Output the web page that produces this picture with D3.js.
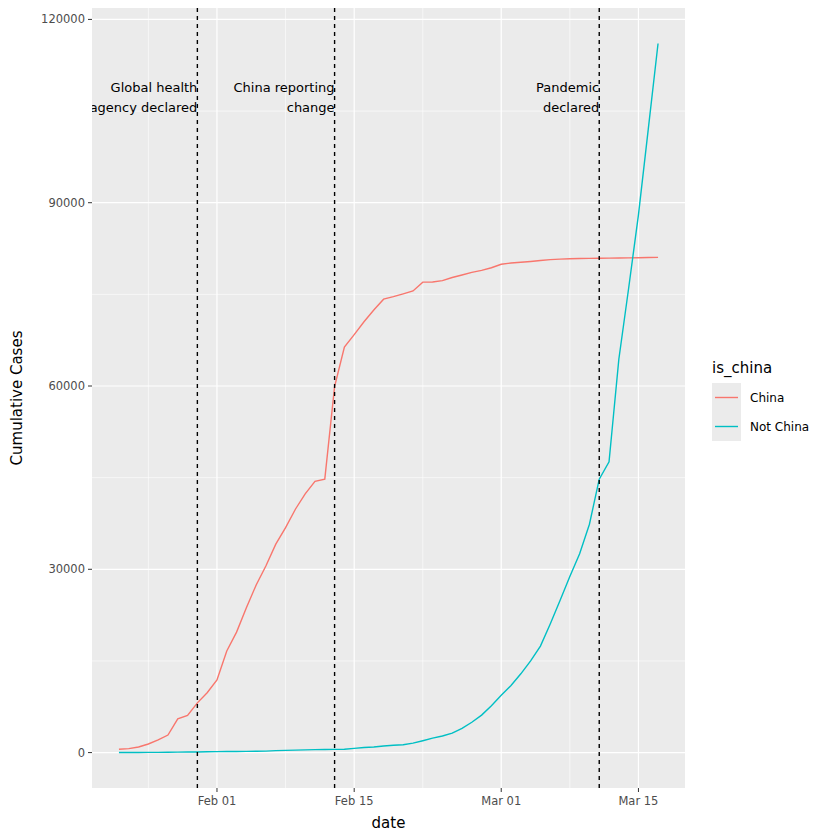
<!DOCTYPE html>
<html><head><meta charset="utf-8">
<script src="https://cdn.jsdelivr.net/npm/d3@7"></script>
<style>body{margin:0;background:#fff}text{font-family:"DejaVu Sans",sans-serif}</style>
</head><body><svg id="chart" width="840" height="840"></svg>
<script>
const startDate = '2020-01-22'
const chinaCases = [548,643,920,1406,2075,2877,5509,6087,8141,9802,11891,16630,19716,23707,27440,30587,34110,36814,39829,42354,44386,44759,59895,66358,68413,70513,72434,74211,74619,75077,75550,77001,77022,77241,77754,78166,78600,78928,79356,79932,80136,80261,80386,80537,80690,80770,80823,80860,80887,80921,80932,80945,80977,81003,81033,81058]
const otherCases = [7,11,21,28,43,50,70,85,95,139,152,167,180,200,217,245,321,356,408,444,486,508,525,541,683,833,919,1073,1207,1292,1539,1945,2364,2716,3194,3951,4961,6134,7665,9391,10969,12893,15012,17426,21059,24905,28823,32559,37381,44744,47595,64378,76000,88000,102000,116066]
const events = [{date:'2020-01-30', label:['Global health','agency declared']},
                {date:'2020-02-13', label:['China reporting','change']},
                {date:'2020-03-11', label:['Pandemic','declared']}]
const xTicks = ['2020-02-01','2020-02-15','2020-03-01','2020-03-15']
const xMinor = ['2020-01-25','2020-02-08','2020-02-22','2020-03-08']
const yTicks = [0,30000,60000,90000,120000]

const parse = d3.timeParse('%Y-%m-%d')
const day0 = parse(startDate)
const dates = chinaCases.map((d,i) => d3.timeDay.offset(day0, i))
const series = [
    {name:'China', color:'#F8766D', values:chinaCases},
    {name:'Not China', color:'#00BFC4', values:otherCases}
]

const pL = 92, pR = 685, pT = 8, pB = 788
const svg = d3.select('#chart')
const xExt = d3.extent(dates), span = xExt[1]-xExt[0]
const x = d3.scaleTime().domain([new Date(+xExt[0]-span*0.05), new Date(+xExt[1]+span*0.05)]).range([pL,pR])
const yMax = d3.max(otherCases), yMin = 7
const y = d3.scaleLinear().domain([yMin-(yMax-yMin)*0.05, yMax+(yMax-yMin)*0.05]).range([pB,pT])

svg.append('rect').attr('x',pL).attr('y',pT).attr('width',pR-pL).attr('height',pB-pT).attr('fill','#EBEBEB')
const g = svg.append('g')
d3.range(15000,120000,30000).forEach(v => g.append('line').attr('x1',pL).attr('x2',pR).attr('y1',y(v)).attr('y2',y(v)).attr('stroke','#fff').attr('stroke-width',0.6))
xMinor.forEach(d => g.append('line').attr('x1',x(parse(d))).attr('x2',x(parse(d))).attr('y1',pT).attr('y2',pB).attr('stroke','#fff').attr('stroke-width',0.6))
yTicks.forEach(v => g.append('line').attr('x1',pL).attr('x2',pR).attr('y1',y(v)).attr('y2',y(v)).attr('stroke','#fff').attr('stroke-width',1.2))
xTicks.forEach(d => g.append('line').attr('x1',x(parse(d))).attr('x2',x(parse(d))).attr('y1',pT).attr('y2',pB).attr('stroke','#fff').attr('stroke-width',1.2))

const line = d3.line().x((d,i) => x(dates[i])).y(d => y(d))
series.forEach(s => svg.append('path').attr('d', line(s.values)).attr('fill','none').attr('stroke',s.color).attr('stroke-width',1.4))

svg.append('clipPath').attr('id','clip').append('rect').attr('x',pL).attr('y',pT).attr('width',pR-pL).attr('height',pB-pT)
const ev = svg.append('g').attr('clip-path','url(#clip)')
events.forEach(e => {
    const ex = x(parse(e.date))
    ev.append('line').attr('x1',ex).attr('x2',ex).attr('y1',pT).attr('y2',pB).attr('stroke','#000').attr('stroke-width',1.4).attr('stroke-dasharray','4,4')
    e.label.forEach((t,i) => ev.append('text').attr('x',ex).attr('y',92+i*20).attr('text-anchor','end').attr('font-size',13).attr('fill','#000').text(t))
})

const fmt = d3.timeFormat('%b %d')
xTicks.forEach(d => {
    const px = x(parse(d))
    svg.append('line').attr('x1',px).attr('x2',px).attr('y1',pB).attr('y2',pB+4).attr('stroke','#333')
    svg.append('text').attr('x',px).attr('y',pB+17).attr('text-anchor','middle').attr('font-size',11.5).attr('fill','#4D4D4D').text(fmt(parse(d)))
})
yTicks.forEach(v => {
    svg.append('line').attr('x1',pL-4).attr('x2',pL).attr('y1',y(v)).attr('y2',y(v)).attr('stroke','#333')
    svg.append('text').attr('x',pL-7).attr('y',y(v)+4).attr('text-anchor','end').attr('font-size',11.5).attr('fill','#4D4D4D').text(v)
})
svg.append('text').attr('x',(pL+pR)/2).attr('y',828).attr('text-anchor','middle').attr('font-size',15).text('date')
svg.append('text').attr('transform',`translate(22,${(pT+pB)/2}) rotate(-90)`).attr('text-anchor','middle').attr('font-size',15).text('Cumulative Cases')

svg.append('text').attr('x',712).attr('y',373).attr('font-size',15).text('is_china')
series.forEach((s,i) => {
    const ky = 383+i*29
    svg.append('rect').attr('x',712).attr('y',ky).attr('width',29).attr('height',29).attr('fill','#EBEBEB')
    svg.append('line').attr('x1',715).attr('x2',738).attr('y1',ky+14.5).attr('y2',ky+14.5).attr('stroke',s.color).attr('stroke-width',1.4)
    svg.append('text').attr('x',750).attr('y',ky+19).attr('font-size',12).text(s.name)
})
</script></body></html>
